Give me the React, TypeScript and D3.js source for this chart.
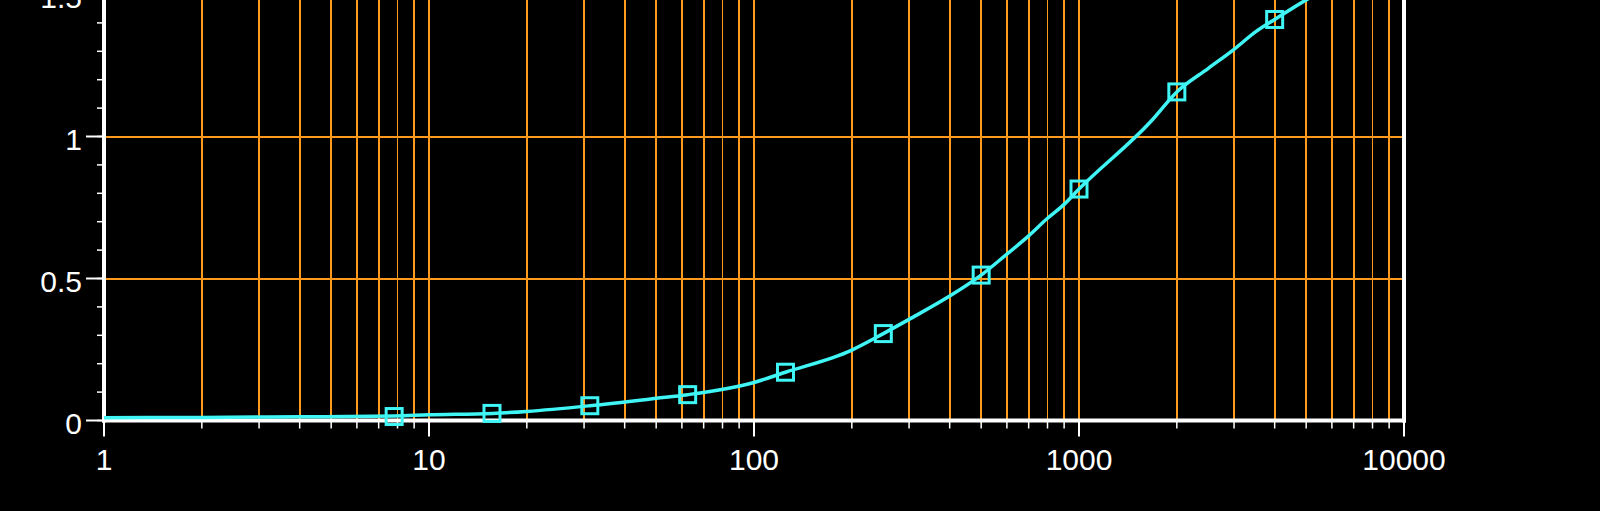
import React from "react";
import * as d3 from "d3";

// Markers (measured points)
const markerX = [7.8125, 15.625, 31.25, 62.5, 125, 250, 500, 1000, 2000, 4000];
const markerY = [0.014, 0.025, 0.052, 0.091, 0.17, 0.306, 0.512, 0.815, 1.157, 1.412];

// Fitted curve
const curveX = [1, 2, 4, 7.8125, 10, 15.625, 20, 31.25, 50, 62.5, 100, 125, 200, 250, 300, 400, 500, 600, 700, 800, 900, 1000, 1660, 2000, 2500, 3000, 3500, 4000, 5000, 6000];
const curveY = [0.01, 0.011, 0.013, 0.016, 0.02, 0.025, 0.032, 0.052, 0.078, 0.091, 0.134, 0.17, 0.248, 0.306, 0.356, 0.438, 0.512, 0.586, 0.65, 0.712, 0.761, 0.815, 1.052, 1.157, 1.24, 1.307, 1.369, 1.412, 1.481, 1.53];

const xTickLabels = [1, 10, 100, 1000, 10000];
const yTickLabels = [0, 0.5, 1, 1.5];

const W = 1600;
const H = 511;
const GRID = "#ff9a1f";
const CYAN = "#3ff5f5";
const FONT = "'Liberation Sans', Arial, sans-serif";

export default function App() {
  const x = d3.scaleLog().domain([1, 10000]).range([104, 1404]);
  const y = d3.scaleLinear().domain([0, 1.5]).range([420.5, -5.5]);

  const xMinor: number[] = [];
  for (let e = 0; e < 4; e++) {
    for (let m = 1; m <= 9; m++) {
      const v = m * Math.pow(10, e);
      if (v > 1 && v < 10000) xMinor.push(v);
    }
  }
  const yMinor = d3.range(0, 17).map((i) => +(i * 0.1).toFixed(1));

  const line = d3
    .line<number>()
    .x((_, i) => x(curveX[i]))
    .y((d) => y(d))
    .curve(d3.curveMonotoneX);

  const topY = -20;
  const s = 15;

  return (
    <svg
      width={W}
      height={H}
      style={{ position: "absolute", left: 0, top: 0, background: "#000", display: "block" }}
    >
      <rect x={0} y={0} width={W} height={H} fill="#000" />
      {/* vertical gridlines */}
      {xMinor.map((v, i) => (
        <line
          key={"gx" + v}
          x1={x(v)}
          x2={x(v)}
          y1={topY}
          y2={y(0)}
          stroke={GRID}
          strokeWidth={1.8}
          shapeRendering="crispEdges"
        />
      ))}
      {/* horizontal gridlines */}
      {yTickLabels
        .filter((v) => v > 0)
        .map((v) => (
          <line
            key={"gy" + v}
            x1={x(1)}
            x2={x(10000)}
            y1={y(v)}
            y2={y(v)}
            stroke={GRID}
            strokeWidth={2}
            shapeRendering="crispEdges"
          />
        ))}
      {/* x ticks */}
      {xMinor.map((v) => (
        <line
          key={"tx" + v}
          x1={x(v)}
          x2={x(v)}
          y1={y(0)}
          y2={y(0) + 8}
          stroke="#fff"
          strokeWidth={1.5}
        />
      ))}
      {xTickLabels.map((v) => (
        <line
          key={"tX" + v}
          x1={x(v)}
          x2={x(v)}
          y1={y(0)}
          y2={y(0) + 16}
          stroke="#fff"
          strokeWidth={2}
        />
      ))}
      {/* y ticks */}
      {yMinor.map((v) => (
        <line
          key={"ty" + v}
          x1={x(1) - 7}
          x2={x(1)}
          y1={y(v)}
          y2={y(v)}
          stroke="#fff"
          strokeWidth={1.5}
        />
      ))}
      {yTickLabels.map((v) => (
        <line
          key={"tY" + v}
          x1={x(1) - 18}
          x2={x(1)}
          y1={y(v)}
          y2={y(v)}
          stroke="#fff"
          strokeWidth={2}
        />
      ))}
      {/* axis frame */}
      <line x1={x(1)} x2={x(1)} y1={topY} y2={y(0) + 2} stroke="#fff" strokeWidth={4} />
      <line x1={x(10000)} x2={x(10000)} y1={topY} y2={y(0) + 2} stroke="#fff" strokeWidth={4} />
      <line x1={x(1) - 2} x2={x(10000) + 2} y1={y(0)} y2={y(0)} stroke="#fff" strokeWidth={4} />
      {/* labels */}
      {xTickLabels.map((v) => (
        <text
          key={"lx" + v}
          x={x(v)}
          y={y(0) + 49.5}
          fill="#fff"
          fontFamily={FONT}
          fontSize={30}
          textAnchor="middle"
        >
          {String(v)}
        </text>
      ))}
      {yTickLabels.map((v) => (
        <text
          key={"ly" + v}
          x={82}
          y={y(v) + 13}
          fill="#fff"
          fontFamily={FONT}
          fontSize={30}
          textAnchor="end"
        >
          {String(v)}
        </text>
      ))}
      {/* curve */}
      <path d={line(curveY) || ""} fill="none" stroke={CYAN} strokeWidth={3.5} />
      {/* markers */}
      {markerX.map((v, i) => (
        <rect
          key={"m" + v}
          x={x(v) - (s + 1) / 2}
          y={y(markerY[i]) - (s + 1) / 2}
          width={s + 1}
          height={s + 1}
          fill="none"
          stroke={CYAN}
          strokeWidth={3}
        />
      ))}
    </svg>
  );
}
